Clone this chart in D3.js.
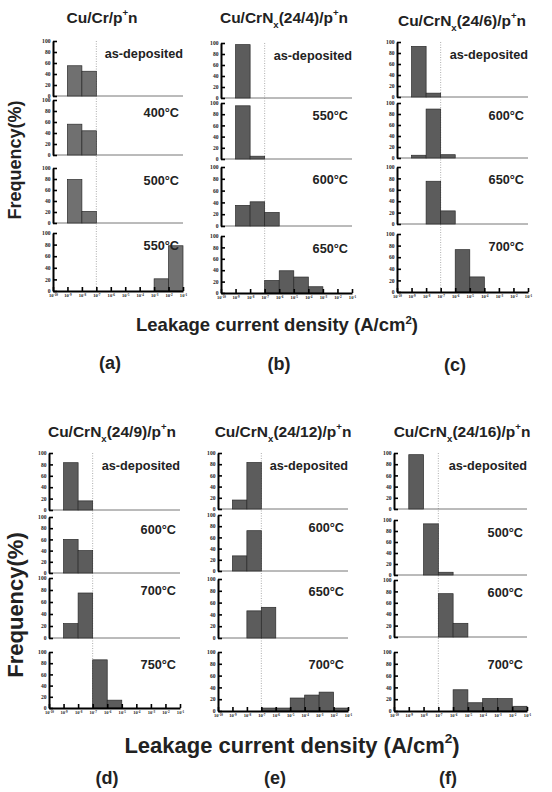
<!DOCTYPE html>
<html>
<head>
<meta charset="utf-8">
<script src="https://cdn.jsdelivr.net/npm/d3@7"></script>
<style>
  body { margin: 0; background: #fff; }
  svg { display: block; font-family: "Liberation Sans", Arial, sans-serif; }
</style>
</head>
<body>
<svg id="fig" width="552" height="792"></svg>
<script>
// ^x = superscript char, _x = subscript char
var panelTitles = ["Cu/Cr/p^+n", "Cu/CrN_x(24/4)/p^+n", "Cu/CrN_x(24/6)/p^+n",
                   "Cu/CrN_x(24/9)/p^+n", "Cu/CrN_x(24/12)/p^+n", "Cu/CrN_x(24/16)/p^+n"];
var panelLetters = ["(a)", "(b)", "(c)", "(d)", "(e)", "(f)"];
var tempLabels = [
  ["as-deposited", "400°C", "500°C", "550°C"],
  ["as-deposited", "550°C", "600°C", "650°C"],
  ["as-deposited", "600°C", "650°C", "700°C"],
  ["as-deposited", "600°C", "700°C", "750°C"],
  ["as-deposited", "600°C", "650°C", "700°C"],
  ["as-deposited", "500°C", "600°C", "700°C"]
];
var decadeExps = ["-10", "-9", "-8", "-7", "-6", "-5", "-4", "-3", "-2", "-1"];
var yTicks = [0, 20, 40, 60, 80, 100];
var threshold = 3; // 10^-7 dotted line (index into decadeExps)

// frequency (%) per decade bin, bin i spans 10^(-10+i) .. 10^(-9+i)
var freqA = [
  [0, 55, 45, 0, 0, 0, 0, 0, 0],
  [0, 56, 44, 0, 0, 0, 0, 0, 0],
  [0, 79, 21, 0, 0, 0, 0, 0, 0],
  [0, 0, 0, 0, 0, 0, 0, 21, 78]
];
var freqB = [
  [0, 97, 0, 0, 0, 0, 0, 0, 0],
  [0, 95, 5, 0, 0, 0, 0, 0, 0],
  [0, 35, 41, 23, 0, 0, 0, 0, 0],
  [0, 0, 0, 22, 39, 28, 11, 0, 0]
];
var freqC = [
  [0, 92, 7, 0, 0, 0, 0, 0, 0],
  [0, 5, 89, 6, 0, 0, 0, 0, 0],
  [0, 0, 75, 23, 0, 0, 0, 0, 0],
  [0, 0, 0, 0, 73, 26, 0, 0, 0]
];
var freqD = [
  [0, 83, 16, 0, 0, 0, 0, 0, 0],
  [0, 60, 40, 0, 0, 0, 0, 0, 0],
  [0, 24, 75, 0, 0, 0, 0, 0, 0],
  [0, 0, 0, 86, 14, 0, 0, 0, 0]
];
var freqE = [
  [0, 16, 83, 0, 0, 0, 0, 0, 0],
  [0, 27, 72, 0, 0, 0, 0, 0, 0],
  [0, 0, 46, 52, 0, 0, 0, 0, 0],
  [0, 0, 0, 5, 5, 22, 27, 32, 5]
];
var freqF = [
  [0, 97, 0, 0, 0, 0, 0, 0, 0],
  [0, 0, 93, 5, 0, 0, 0, 0, 0],
  [0, 0, 0, 76, 24, 0, 0, 0, 0],
  [0, 0, 0, 0, 36, 14, 21, 21, 8]
];
var panelData = [freqA, freqB, freqC, freqD, freqE, freqF];

// layout (pixels)
var layout = [
  {x0: 53,  x1: 183, rows: [[41, 96], [100, 155], [168, 223], [233, 291]], tx: 102, ty: 18, lx: 110, ly: 363},
  {x0: 221, x1: 352, rows: [[43, 98], [103, 159], [167, 226], [236, 293]], tx: 284, ty: 18, lx: 279, ly: 364},
  {x0: 397, x1: 528, rows: [[42, 97], [103, 158], [167, 224], [234, 292]], tx: 462, ty: 21, lx: 455, ly: 365},
  {x0: 49,  x1: 180, rows: [[453, 510], [517, 573], [578, 638], [652, 708]], tx: 112, ty: 432, lx: 107, ly: 778},
  {x0: 218, x1: 348, rows: [[453, 509], [515, 571], [579, 638], [652, 711]], tx: 283, ty: 432, lx: 275, ly: 778},
  {x0: 394, x1: 527, rows: [[453, 509], [520, 575], [580, 637], [652, 711]], tx: 462, ty: 432, lx: 448, ly: 778}
];

var svg = d3.select("#fig");

// write "a^bc_d" style strings into a text element
function rich(sel, str, size) {
  var parts = str.split(/([\^_].)/).filter(function(p){ return p.length; });
  var shift = 0;
  parts.forEach(function(p){
    var t = sel.append("tspan");
    if (p[0] === "^" || p[0] === "_") {
      var d = p[0] === "^" ? -size * 0.42 : size * 0.3;
      t.text(p[1]).attr("font-size", size * 0.62).attr("dy", d - shift);
      shift = d;
    } else {
      t.text(p).attr("dy", -shift);
      shift = 0;
    }
  });
}

panelData.forEach(function(rowsData, p){
  var L = layout[p];
  var g = svg.append("g");
  var x = d3.scaleLinear().domain([0, 9]).range([L.x0, L.x1]);
  var bins = d3.range(9);

  // title
  rich(g.append("text")
      .attr("x", L.tx).attr("y", L.ty + 5)
      .attr("text-anchor", "middle")
      .attr("font-size", 15.5).attr("font-weight", "bold")
      .attr("fill", "#222"), panelTitles[p], 15.5);

  // dotted 10^-7 line
  g.append("line")
    .attr("x1", x(threshold)).attr("x2", x(threshold))
    .attr("y1", L.rows[0][0]).attr("y2", L.rows[3][1])
    .attr("stroke", "#999").attr("stroke-width", 0.8)
    .attr("stroke-dasharray", "1,1.5");

  rowsData.forEach(function(vals, r){
    var top = L.rows[r][0], bot = L.rows[r][1];
    var y = d3.scaleLinear().domain([0, 100]).range([bot, top]);
    var last = r === 3;

    if (!last) {
      g.append("line")
        .attr("x1", L.x0).attr("x2", L.x1)
        .attr("y1", bot).attr("y2", bot)
        .attr("stroke", "#777").attr("stroke-width", 1);
    }

    g.append("g").selectAll("rect")
      .data(bins.filter(function(i){ return vals[i] > 0; }))
      .join("rect")
      .attr("x", function(i){ return x(i); })
      .attr("width", function(i){ return x(i + 1) - x(i); })
      .attr("y", function(i){ return y(vals[i]); })
      .attr("height", function(i){ return bot - y(vals[i]); })
      .attr("fill", p === 0 ? "#707070" : "#5c5c5c")
      .attr("stroke", "#2a2a2a").attr("stroke-width", 0.7);

    var ya = g.append("g")
      .attr("transform", "translate(" + L.x0 + ",0)")
      .call(d3.axisLeft(y).tickValues(yTicks).tickSizeInner(-4).tickSizeOuter(0).tickPadding(2.5));
    ya.select(".domain").attr("stroke-width", 2);
    ya.selectAll(".tick line").attr("stroke-width", 1.6);
    ya.selectAll("text")
      .attr("font-family", "'Liberation Serif', serif")
      .attr("font-weight", "bold").attr("font-size", 5.6).attr("fill", "#222");

    g.append("text")
      .attr("x", r === 0 ? L.x1 : L.x1 - 4)
      .attr("y", top + 17)
      .attr("text-anchor", "end")
      .attr("font-size", 12.7).attr("font-weight", "bold").attr("fill", "#222")
      .text(tempLabels[p][r]);

    if (last) {
      var xa = g.append("g")
        .attr("transform", "translate(0," + bot + ")")
        .call(d3.axisBottom(x).tickValues(d3.range(10)).tickSizeInner(-4).tickSizeOuter(0).tickPadding(3));
      xa.select(".domain").attr("stroke-width", 2);
      xa.selectAll(".tick line").attr("stroke-width", 1.6);
      xa.selectAll("text")
        .attr("font-family", "'Liberation Serif', serif")
        .attr("font-weight", "bold").attr("font-size", 4.6).attr("fill", "#222")
        .text(null)
        .each(function(d){
          var t = d3.select(this);
          t.append("tspan").text("10");
          t.append("tspan").text(decadeExps[d]).attr("font-size", 3.3).attr("dy", -1.6);
        });
    }
  });

  g.append("text")
    .attr("x", L.lx).attr("y", L.ly + 6)
    .attr("text-anchor", "middle")
    .attr("font-size", 18).attr("font-weight", "bold").attr("fill", "#222")
    .text(panelLetters[p]);
});

// shared axis titles
var groupLabels = [
  {fx: 21, fy: 160, fs: 18, lx: 277, ly: 325, ls: 18.5},
  {fx: 23, fy: 605, fs: 22, lx: 292, ly: 745, ls: 22}
];
groupLabels.forEach(function(G){
  svg.append("text")
    .attr("transform", "translate(" + G.fx + "," + G.fy + ") rotate(-90)")
    .attr("text-anchor", "middle")
    .attr("font-size", G.fs).attr("font-weight", "bold").attr("fill", "#222")
    .text("Frequency(%)");
  rich(svg.append("text")
      .attr("x", G.lx).attr("y", G.ly + G.ls * 0.35)
      .attr("text-anchor", "middle")
      .attr("font-size", G.ls).attr("font-weight", "bold").attr("fill", "#222"),
    "Leakage current density (A/cm^2)", G.ls);
});
</script>
</body>
</html>
